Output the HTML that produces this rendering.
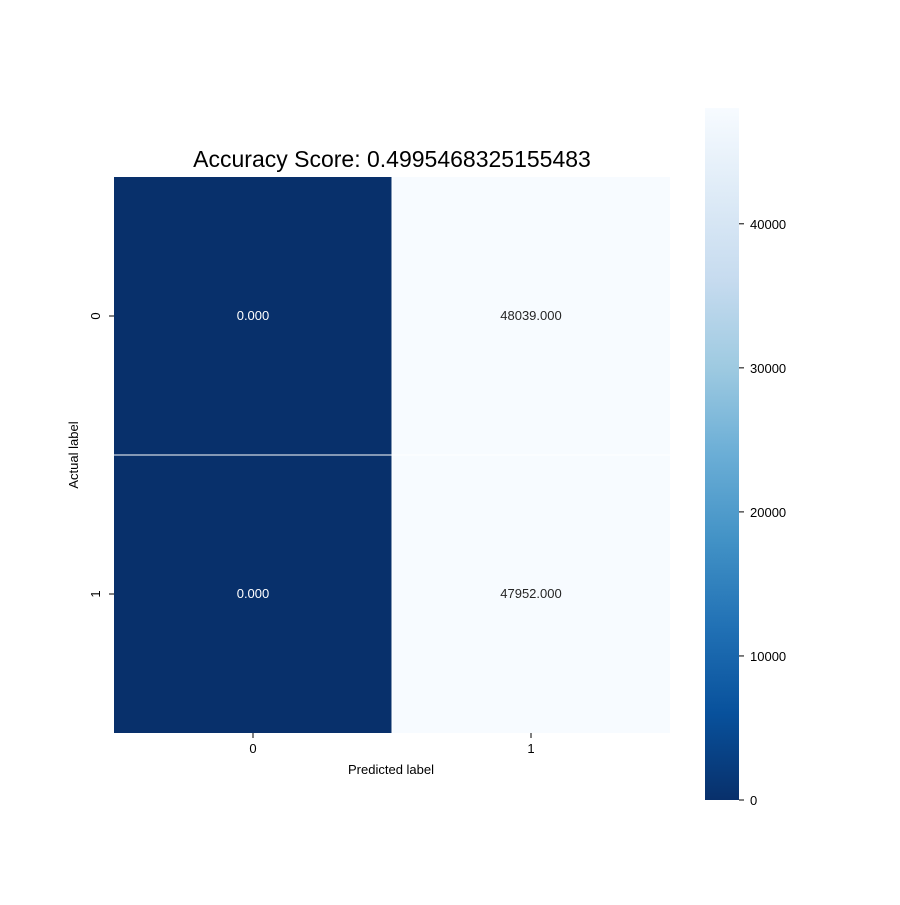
<!DOCTYPE html>
<html><head><meta charset="utf-8"><style>
body{margin:0;background:#fff;}
svg text{font-family:"Liberation Sans","DejaVu Sans",sans-serif;}
</style></head><body>
<svg id="chart" width="900" height="900" xmlns="http://www.w3.org/2000/svg">
<defs>
<linearGradient id="blues" x1="0" y1="1" x2="0" y2="0">
<stop offset="0" stop-color="#08306b"/><stop offset="0.125" stop-color="#08519c"/><stop offset="0.25" stop-color="#2171b5"/><stop offset="0.375" stop-color="#4292c6"/><stop offset="0.5" stop-color="#6baed6"/><stop offset="0.625" stop-color="#9ecae1"/><stop offset="0.75" stop-color="#c6dbef"/><stop offset="0.875" stop-color="#deebf7"/><stop offset="1" stop-color="#f7fbff"/>
</linearGradient>
</defs>
<text x="392" y="167" font-size="23" text-anchor="middle" fill="#000">Accuracy Score: 0.4995468325155483</text>
<g id="cells"></g>
<g id="axes"></g>
<text x="391" y="774" font-size="13" text-anchor="middle">Predicted label</text>
<text x="78" y="455" font-size="13" text-anchor="middle" transform="rotate(-90 78 455)">Actual label</text>
<rect x="705" y="108" width="34" height="692" fill="url(#blues)"/>
<g id="cbticks"></g>
</svg>
<script>
const categories=["0","1"];
const matrix=[[0,48039],[0,47952]];
const cellLabels=["0.000","48039.000","0.000","47952.000"];
const cbTicks=[0,10000,20000,30000,40000];
const vmin=0, vmax=48039;
const NS="http://www.w3.org/2000/svg";
const x0=114,y0=177,size=556,n=categories.length,cw=size/n;
const stops=["#08306b","#08519c","#2171b5","#4292c6","#6baed6","#9ecae1","#c6dbef","#deebf7","#f7fbff"];
function hex(c){return [1,3,5].map(i=>parseInt(c.substr(i,2),16));}
function color(v){let t=(v-vmin)/(vmax-vmin);t=Math.max(0,Math.min(1,t))*(stops.length-1);
 const i=Math.min(Math.floor(t),stops.length-2),f=t-i;const a=hex(stops[i]),b=hex(stops[i+1]);
 return "rgb("+a.map((x,k)=>Math.round(x+(b[k]-x)*f)).join(",")+")";}
function lum(v){return (v-vmin)/(vmax-vmin);}
const xs=i=>x0+i*cw, ys=i=>y0+i*cw;
const cells=document.getElementById("cells"),axes=document.getElementById("axes"),cb=document.getElementById("cbticks");
function mk(tag,attrs,parent){const e=document.createElementNS(NS,tag);for(const k in attrs)e.setAttribute(k,attrs[k]);parent.appendChild(e);return e;}
for(let r=0;r<n;r++)for(let c=0;c<n;c++){
 const v=matrix[r][c];
 const rect=mk("rect",{x:xs(c),y:ys(r),width:cw,height:cw,fill:color(v)},cells);
 
 
}
for(let i=1;i<n;i++){
 mk("line",{x1:xs(i),y1:y0,x2:xs(i),y2:y0+size,stroke:"#fff","stroke-width":1},cells);
 mk("line",{x1:x0,y1:ys(i),x2:x0+size,y2:ys(i),stroke:"#fff","stroke-width":1},cells);
}
for(let r=0;r<n;r++)for(let c=0;c<n;c++){
 const v=matrix[r][c];
 const t=mk("text",{x:xs(c)+cw/2,y:ys(r)+cw/2+4,"font-size":13,"text-anchor":"middle",fill:lum(v)>0.5?"#262626":"#fff"},cells);
 t.textContent=cellLabels[r*n+c];
 
 
}
for(let i=0;i<n;i++){
 const cx=xs(i)+cw/2, cy=ys(i)+cw/2;
 mk("line",{x1:cx,y1:733,x2:cx,y2:738,stroke:"#000"},axes);
 const tx=mk("text",{x:cx,y:753,"font-size":13,"text-anchor":"middle"},axes);
 tx.textContent=categories[i];
 
 
 mk("line",{x1:109,y1:cy,x2:114,y2:cy,stroke:"#000"},axes);
 const ty=mk("text",{x:100,y:cy,"font-size":13,"text-anchor":"middle",transform:"rotate(-90 100 "+cy+")"},axes);
 ty.textContent=categories[i];
 
 
}
const cbTop=108,cbBot=800,cbY=v=>cbBot-(v-vmin)/(vmax-vmin)*(cbBot-cbTop);
cbTicks.forEach(v=>{
 const y=cbY(v);
 mk("line",{x1:739,y1:y,x2:744,y2:y,stroke:"#000"},cb);
 const t=mk("text",{x:750,y:y+5,"font-size":13},cb);
 t.textContent=String(v);
 
 
});
</script>
</body></html>
